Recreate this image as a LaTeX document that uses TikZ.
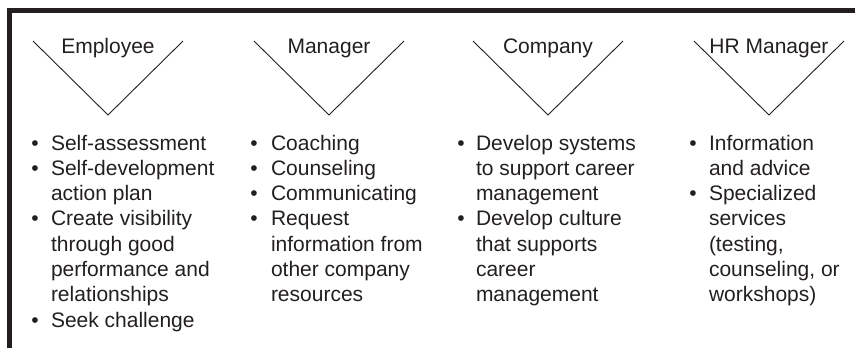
\documentclass[tikz,border=0pt]{standalone}
\usepackage{fontspec}
\setmainfont{Liberation Sans}
\definecolor{ink}{RGB}{35,31,32}
\begin{document}
\begin{tikzpicture}[x=1pt,y=-1pt,
  txt/.style={inner sep=0pt, outer sep=0pt, text=ink, font=\fontsize{21}{25}\selectfont, anchor=base west},
  bul/.style={inner sep=0pt, outer sep=0pt, text=ink, font=\fontsize{21}{25}\selectfont, anchor=base},
  head/.style={inner sep=0pt, outer sep=0pt, text=ink, font=\fontsize{21}{25}\selectfont, anchor=base},
  chev/.style={draw=ink, line width=0.9pt, line join=miter},
  frame/.style={draw=ink, line width=5pt}]
\useasboundingbox (0,0) rectangle (855,348);
% frame (top and left only)
\coordinate (fa) at (9.5,348);
\coordinate (fb) at (9.5,10.5);
\coordinate (fc) at (855,10.5);
\draw[frame] (fa) -- (fb) -- (fc);
% chevrons
\foreach \cx/\lab [count=\k] in {108/Employee,329/Manager,548/Company,769/HR Manager}{
  \coordinate (cl\k) at (\cx-75,41);
  \coordinate (cb\k) at (\cx,115);
  \coordinate (cr\k) at (\cx+75,41);
  \draw[chev] (cl\k) -- (cb\k) -- (cr\k);
  \node[head] (h\k) at (\cx,53) {\lab};
}
% text lines
\foreach \x/\l/\t [count=\n] in {
  51/0/Self-assessment, 51/1/Self-development, 51/2/action plan, 51/3/Create visibility,
  51/4/through good, 51/5/performance and, 51/6/relationships, 51/7/Seek challenge,
  271/0/Coaching, 271/1/Counseling, 271/2/Communicating, 271/3/Request,
  271/4/information from, 271/5/other company, 271/6/resources,
  476/0/Develop systems, 476/1/to support career, 476/2/management, 476/3/Develop culture,
  476/4/that supports, 476/5/career, 476/6/management,
  709/0/Information, 709/1/and advice, 709/2/Specialized, 709/3/services,
  709/4/{(testing,}, 709/5/{counseling, or}, 709/6/workshops)}{
  \node[txt] (t\n) at (\x,150+25.3*\l) {\t};
}
% bullets
\foreach \x/\l [count=\n] in {35/0,35/1,35/3,35/7, 254/0,254/1,254/2,254/3,
  461/0,461/3, 693/0,693/2}{
  \node[bul] (b\n) at (\x,150+25.3*\l) {•};
}
\end{tikzpicture}
\end{document}
